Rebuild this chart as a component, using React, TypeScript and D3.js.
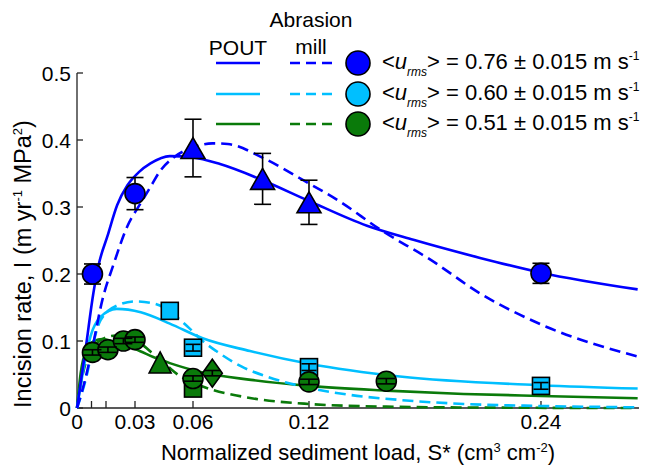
import React, { useEffect, useRef } from 'react';
import * as d3 from 'd3';

// colours for the three flow speeds
const BLUE = '#0000ff';
const CYAN = '#00bfff';
const GREEN = '#0a7a0a';

// x / y ticks
const xTicks = [0, 0.0075, 0.015, 0.03, 0.06, 0.12, 0.24];
const xTickLabels = ['0', '', '', '0.03', '0.06', '0.12', '0.24'];
const yTicks = [0, 0.1, 0.2, 0.3, 0.4, 0.5];
const yTickLabels = ['0', '0.1', '0.2', '0.3', '0.4', '0.5'];

// measured points
const blueCircleX = [0.008, 0.03, 0.24];
const blueCircleY = [0.2, 0.32, 0.201];
const blueCircleErr = [0.015, 0.024, 0.015];

const blueTriX = [0.06, 0.096, 0.12];
const blueTriY = [0.388, 0.342, 0.307];
const blueTriErr = [0.043, 0.038, 0.033];

const cyanSquareX = [0.048, 0.06, 0.12, 0.24];
const cyanSquareY = [0.145, 0.09, 0.061, 0.033];
const cyanSquareErr = [0, 0.005, 0.005, 0.005];

const greenCircleX = [0.008, 0.016, 0.024, 0.03, 0.06, 0.12, 0.16];
const greenCircleY = [0.083, 0.087, 0.1, 0.102, 0.044, 0.039, 0.04];
const greenCircleErr = [0.004, 0.004, 0.004, 0.004, 0.004, 0.004, 0.004];

const greenTriX = [0.043];
const greenTriY = [0.068];
const greenSquareX = [0.06];
const greenSquareY = [0.029];
const greenDiamondX = [0.07];
const greenDiamondY = [0.052];
const greenDiamondErr = [0.004];

// model curves
const bluePout: [number, number][] = [
  [0, 0], [0.0045, 0.089], [0.0085, 0.172], [0.0114, 0.216], [0.0157, 0.256], [0.0208, 0.303],
  [0.026, 0.332], [0.032, 0.352], [0.038, 0.365], [0.048, 0.376], [0.06, 0.374], [0.074, 0.364],
  [0.096, 0.34], [0.12, 0.309], [0.15, 0.272], [0.174, 0.251], [0.2085, 0.224], [0.24, 0.202], [0.29, 0.177],
];
const blueMill: [number, number][] = [
  [0, 0], [0.004, 0.04], [0.0079, 0.089], [0.0131, 0.161], [0.0191, 0.216], [0.026, 0.271],
  [0.033, 0.306], [0.038, 0.33], [0.0433, 0.355], [0.05, 0.374], [0.06, 0.389], [0.07, 0.395],
  [0.078, 0.394], [0.0964, 0.373], [0.117, 0.34], [0.136, 0.308], [0.157, 0.266], [0.183, 0.221],
  [0.2085, 0.171], [0.243, 0.121], [0.29, 0.077],
];
const cyanPout: [number, number][] = [
  [0, 0], [0.0036, 0.062], [0.0071, 0.108], [0.0122, 0.136], [0.0205, 0.148], [0.033, 0.143],
  [0.048, 0.126], [0.065, 0.104], [0.0895, 0.085], [0.12, 0.066], [0.167, 0.047], [0.24, 0.034], [0.29, 0.029],
];
const cyanMill: [number, number][] = [
  [0, 0], [0.0053, 0.052], [0.0088, 0.101], [0.0122, 0.131], [0.0208, 0.153], [0.03, 0.159],
  [0.038, 0.157], [0.045, 0.15], [0.057, 0.122], [0.065, 0.1], [0.072, 0.085], [0.085, 0.062],
  [0.098, 0.047], [0.12, 0.03], [0.14, 0.02], [0.167, 0.012], [0.2, 0.006], [0.24, 0.003], [0.29, 0.001],
];
const greenPout: [number, number][] = [
  [0, 0], [0.0019, 0.052], [0.0053, 0.089], [0.009, 0.1], [0.013, 0.103], [0.02, 0.098],
  [0.03, 0.088], [0.042, 0.073], [0.048, 0.067], [0.065, 0.053], [0.09, 0.042], [0.12, 0.033],
  [0.16, 0.026], [0.2, 0.021], [0.24, 0.018], [0.29, 0.0145],
];
const greenMill: [number, number][] = [
  [0, 0], [0.001, 0.02], [0.0036, 0.058], [0.0088, 0.092], [0.0157, 0.106], [0.02, 0.108],
  [0.027, 0.104], [0.033, 0.096], [0.04, 0.079], [0.047, 0.062], [0.053, 0.048], [0.065, 0.032],
  [0.0895, 0.015], [0.12, 0.006], [0.16, 0.002], [0.22, 0.0005], [0.29, 0],
];

const legendSpeeds = ['0.76', '0.60', '0.51'];
const legendColors = [BLUE, CYAN, GREEN];

const FONT = 'Arial, "Liberation Sans", Helvetica, sans-serif';

export default function App() {
  const ref = useRef<SVGSVGElement | null>(null);

  useEffect(() => {
    if (!ref.current) return;
    const width = 648;
    const height = 465;
    const svg = d3.select(ref.current);
    svg.selectAll('*').remove();
    svg.attr('viewBox', `0 0 ${width} ${height}`).style('font-family', FONT);

    const x = d3.scaleLinear().domain([0, 0.2907]).range([77, 639]);
    const y = d3.scaleLinear().domain([0, 0.5]).range([408, 73]);

    // axes
    const axes = svg.append('g').attr('stroke', '#222').attr('stroke-width', 1.3);
    axes.append('line').attr('x1', x(0)).attr('x2', x(0)).attr('y1', y(0)).attr('y2', y(0.5));
    axes.append('line').attr('x1', x(0)).attr('x2', x(0.2907)).attr('y1', y(0)).attr('y2', y(0));
    axes.selectAll('.yt').data(yTicks).enter().append('line')
      .attr('x1', x(0)).attr('x2', x(0) + 6).attr('y1', d => y(d)).attr('y2', d => y(d));
    axes.selectAll('.xt').data(xTicks).enter().append('line')
      .attr('x1', d => x(d)).attr('x2', d => x(d)).attr('y1', y(0)).attr('y2', y(0) - 7);

    svg.selectAll('.ytl').data(yTicks).enter().append('text')
      .attr('x', x(0) - 6).attr('y', d => y(d) + 7.5)
      .attr('text-anchor', 'end').attr('font-size', 21)
      .text((_, i) => yTickLabels[i]);
    svg.selectAll('.xtl').data(xTicks).enter().append('text')
      .attr('x', d => x(d)).attr('y', 429)
      .attr('text-anchor', 'middle').attr('font-size', 21)
      .text((_, i) => xTickLabels[i]);

    // axis titles
    const xl = svg.append('text').attr('x', 358).attr('y', 460)
      .attr('text-anchor', 'middle').attr('font-size', 22);
    xl.append('tspan').text('Normalized sediment load, S* (cm');
    xl.append('tspan').attr('font-size', 13).attr('dy', -8).text('3');
    xl.append('tspan').attr('dy', 8).text(' cm');
    xl.append('tspan').attr('font-size', 13).attr('dy', -8).text('-2');
    xl.append('tspan').attr('dy', 8).text(')');

    const yl = svg.append('text').attr('transform', 'translate(31,264) rotate(-90)')
      .attr('text-anchor', 'middle').attr('font-size', 23.5);
    yl.append('tspan').text('Incision rate, I (m yr');
    yl.append('tspan').attr('font-size', 13).attr('dy', -9).text('-1');
    yl.append('tspan').attr('dy', 9).text(' MPa');
    yl.append('tspan').attr('font-size', 13).attr('dy', -9).text('2');
    yl.append('tspan').attr('dy', 9).text(')');

    // model curves
    const line = d3.line<[number, number]>().x(d => x(d[0])).y(d => y(d[1])).curve(d3.curveMonotoneX);
    const curves: { data: [number, number][]; color: string; dashed: boolean }[] = [
      { data: greenMill, color: GREEN, dashed: true },
      { data: greenPout, color: GREEN, dashed: false },
      { data: cyanMill, color: CYAN, dashed: true },
      { data: cyanPout, color: CYAN, dashed: false },
      { data: blueMill, color: BLUE, dashed: true },
      { data: bluePout, color: BLUE, dashed: false },
    ];
    svg.selectAll('.curve').data(curves).enter().append('path')
      .attr('d', d => line(d.data))
      .attr('fill', 'none')
      .attr('stroke', d => d.color)
      .attr('stroke-width', 2.6)
      .attr('stroke-dasharray', d => (d.dashed ? '11,6' : null));

    const marks = svg.append('g').attr('stroke', '#000').attr('stroke-width', 1.6);

    const errBars = (xs: number[], ys: number[], es: number[], cap = 8.5) => {
      xs.forEach((xv, i) => {
        if (!es[i]) return;
        const g = marks.append('g').attr('fill', 'none').attr('stroke-width', 1.6);
        g.append('line').attr('x1', x(xv)).attr('x2', x(xv)).attr('y1', y(ys[i] - es[i])).attr('y2', y(ys[i] + es[i]));
        [ys[i] - es[i], ys[i] + es[i]].forEach(v => {
          g.append('line').attr('x1', x(xv) - cap).attr('x2', x(xv) + cap).attr('y1', y(v)).attr('y2', y(v));
        });
      });
    };
    const circles = (xs: number[], ys: number[], fill: string, r = 10) => {
      xs.forEach((xv, i) => {
        marks.append('circle').attr('cx', x(xv)).attr('cy', y(ys[i])).attr('r', r).attr('fill', fill);
      });
    };
    const squares = (xs: number[], ys: number[], fill: string, s = 17) => {
      xs.forEach((xv, i) => {
        marks.append('rect').attr('x', x(xv) - s / 2).attr('y', y(ys[i]) - s / 2)
          .attr('width', s).attr('height', s).attr('fill', fill);
      });
    };
    const triangles = (xs: number[], ys: number[], fill: string, w = 24, h = 21) => {
      xs.forEach((xv, i) => {
        const cx = x(xv);
        const cy = y(ys[i]);
        marks.append('path')
          .attr('d', `M${cx},${cy - h / 2}L${cx + w / 2},${cy + h / 2}L${cx - w / 2},${cy + h / 2}Z`)
          .attr('fill', fill).attr('stroke-linejoin', 'miter');
      });
    };
    const diamonds = (xs: number[], ys: number[], fill: string, w = 20, h = 28) => {
      xs.forEach((xv, i) => {
        const cx = x(xv);
        const cy = y(ys[i]);
        marks.append('path')
          .attr('d', `M${cx},${cy - h / 2}L${cx + w / 2},${cy}L${cx},${cy + h / 2}L${cx - w / 2},${cy}Z`)
          .attr('fill', fill);
      });
    };

    // cyan squares (bars drawn on top, inside the marker)
    squares(cyanSquareX, cyanSquareY, CYAN);
    errBars(cyanSquareX, cyanSquareY, cyanSquareErr, 7.5);

    // green
    squares(greenSquareX, greenSquareY, GREEN);
    triangles(greenTriX, greenTriY, GREEN, 22, 21);
    circles(greenCircleX, greenCircleY, GREEN);
    errBars(greenCircleX, greenCircleY, greenCircleErr, 9);
    diamonds(greenDiamondX, greenDiamondY, GREEN);
    errBars(greenDiamondX, greenDiamondY, greenDiamondErr, 8);

    // blue (bars underneath)
    errBars(blueCircleX, blueCircleY, blueCircleErr);
    errBars(blueTriX, blueTriY, blueTriErr);
    circles(blueCircleX, blueCircleY, BLUE);
    triangles(blueTriX, blueTriY, BLUE);

    // legend
    svg.append('text').attr('x', 311).attr('y', 27).attr('text-anchor', 'middle').attr('font-size', 21).text('Abrasion');
    svg.append('text').attr('x', 238).attr('y', 55).attr('text-anchor', 'middle').attr('font-size', 21).text('POUT');
    svg.append('text').attr('x', 311).attr('y', 54).attr('text-anchor', 'middle').attr('font-size', 21).text('mill');

    const rowY = [63, 94, 124];
    legendColors.forEach((c, i) => {
      const ry = rowY[i];
      svg.append('line').attr('x1', 216).attr('x2', 260).attr('y1', ry).attr('y2', ry)
        .attr('stroke', c).attr('stroke-width', 2.6);
      svg.append('line').attr('x1', 290).attr('x2', 334).attr('y1', ry).attr('y2', ry)
        .attr('stroke', c).attr('stroke-width', 2.6).attr('stroke-dasharray', '10,6');
      svg.append('circle').attr('cx', 358).attr('cy', ry).attr('r', 12)
        .attr('fill', c).attr('stroke', '#000').attr('stroke-width', 1.6);
      const t = svg.append('text').attr('x', 382).attr('y', ry + 6).attr('font-size', 22);
      t.append('tspan').text('<');
      t.append('tspan').attr('font-style', 'italic').text('u');
      t.append('tspan').attr('font-style', 'italic').attr('font-size', 12).attr('dy', 7).text('rms');
      t.append('tspan').attr('dy', -7).text(`> = ${legendSpeeds[i]} ± 0.015 m s`);
      t.append('tspan').attr('font-size', 12).attr('dy', -9).text('-1');
    });
  }, []);

  return (
    <svg ref={ref} width={648} height={465} style={{ position: 'absolute', left: 0, top: 0, background: '#fff' }} />
  );
}
